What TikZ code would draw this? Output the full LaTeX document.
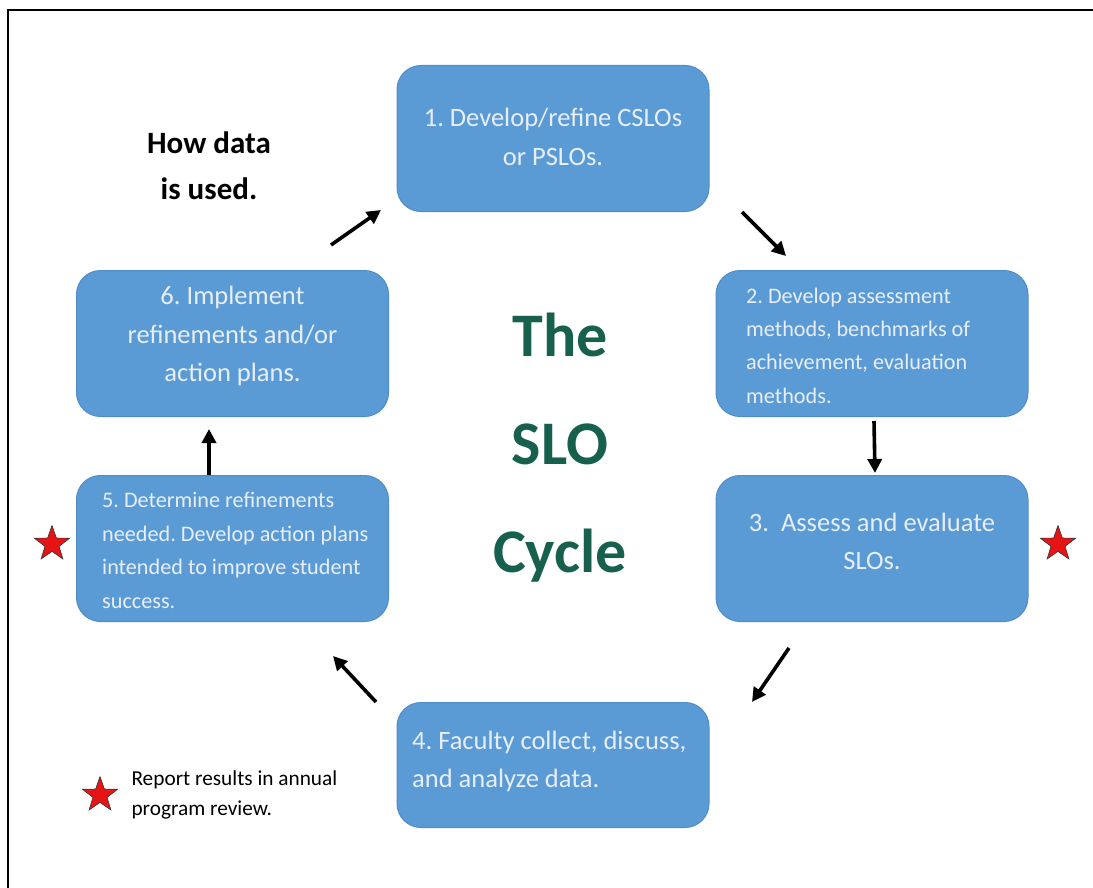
\documentclass[tikz,border=0pt]{standalone}
\usepackage{fontspec}
\setmainfont{Carlito}
\usetikzlibrary{shapes.geometric,arrows.meta}
\definecolor{boxblue}{RGB}{91,155,213}
\definecolor{boxedge}{RGB}{80,140,200}
\definecolor{boxtext}{RGB}{232,238,247}
\definecolor{titlegreen}{RGB}{24,96,78}
\definecolor{starred}{RGB}{230,20,20}
\tikzset{
  stepbox/.style={draw=boxedge, line width=1pt, fill=boxblue, rounded corners=24pt,
    minimum width=312pt, minimum height=146pt, inner sep=0pt},
  bigtxt/.style={text=boxtext, inner sep=0pt, font=\fontsize{26.5}{38.7}\selectfont},
  smalltxt/.style={text=boxtext, inner sep=0pt, font=\fontsize{22.2}{33.4}\selectfont},
  flowarrow/.style={line width=3.6pt, -{Triangle[length=14pt,width=14pt]}},
  redstar/.style={star, star points=5, star point ratio=2.5, minimum size=37pt,
    inner sep=0pt, fill=starred, draw=black!80, line width=0.6pt}
}
\begin{document}
\frenchspacing
\begin{tikzpicture}[x=1pt,y=-1pt]
\useasboundingbox (0,0) rectangle (1093,888);
% frame (left and top visible)
\draw[line width=2.5pt] (8,888) -- (8,10) -- (1093,10);

% boxes
\node[stepbox] (b1) at (553,138.5) {};
\node[stepbox] (b2) at (872,343.5) {};
\node[stepbox] (b3) at (872,548.5) {};
\node[stepbox, minimum height=125pt] (b4) at (553,765) {};
\node[stepbox] (b5) at (232.5,548.5) {};
\node[stepbox] (b6) at (232.5,343.5) {};

% box texts
\node[bigtxt, align=center] (b1t) at (553,137)
  {1. Develop/refine CSLOs\\or PSLOs.};
\node[smalltxt, align=left, anchor=west] (b2t) at (746,345.5)
  {2. Develop assessment\\methods, benchmarks of\\achievement, evaluation\\methods.};
\node[bigtxt, align=center] (b3t) at (872,541.5)
  {3.\ \ Assess and evaluate\\SLOs.};
\node[bigtxt, align=left, anchor=west] (b4t) at (412,761.5)
  {4. Faculty collect, discuss,\\and analyze data.};
\node[smalltxt, align=left, anchor=west] (b5t) at (102,550.5)
  {5. Determine refinements\\needed. Develop action plans\\intended to improve student\\success.};
\node[bigtxt, align=center] (b6t) at (232.5,336)
  {6. Implement\\refinements and/or\\action plans.};

% arrow end points
\coordinate (a1s) at (742,212);  \coordinate (a1e) at (786,256);
\coordinate (a2s) at (874,421);  \coordinate (a2e) at (875,473);
\coordinate (a3s) at (789,648);  \coordinate (a3e) at (752,702);
\coordinate (a4s) at (376,702);  \coordinate (a4e) at (333,656);
\coordinate (a5s) at (209,475);  \coordinate (a5e) at (209,429);
\coordinate (a6s) at (331,245);  \coordinate (a6e) at (381,210);
\draw[flowarrow] (a1s) -- (a1e);
\draw[flowarrow] (a2s) -- (a2e);
\draw[flowarrow] (a3s) -- (a3e);
\draw[flowarrow] (a4s) -- (a4e);
\draw[flowarrow] (a5s) -- (a5e);
\draw[flowarrow] (a6s) -- (a6e);

% title
\node[font=\bfseries\fontsize{62}{108}\selectfont, text=titlegreen, align=center] (title) at (560,448)
  {The\\SLO\\Cycle};

% how data is used
\node[font=\bfseries\fontsize{31}{46}\selectfont, align=center] (how) at (209,166)
  {How data\\is used.};

% stars
\node[redstar] (s3) at (1058,544) {};
\node[redstar] (s5) at (52,544) {};
\node[redstar] (s0) at (100,795) {};

% legend
\node[font=\fontsize{21.3}{30.5}\selectfont, align=left, anchor=west] (legend) at (128,795)
  {Report results in annual\\program review.};
\end{tikzpicture}
\end{document}
